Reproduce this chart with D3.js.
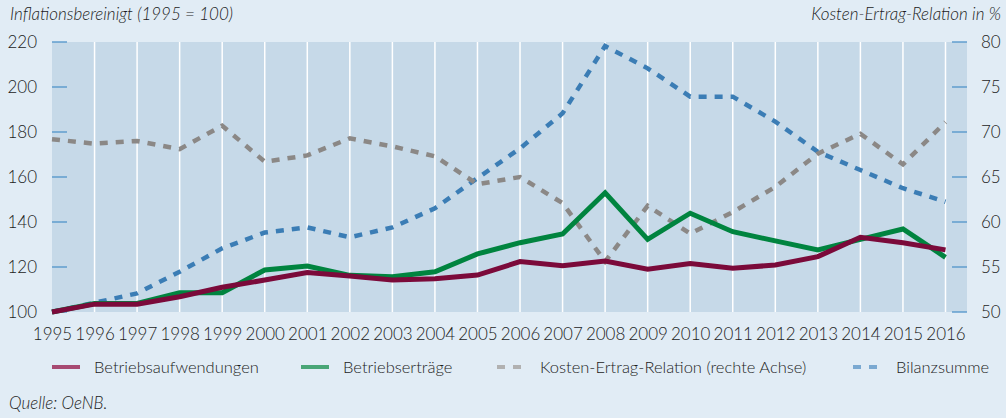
<!DOCTYPE html>
<html>
<head>
<meta charset="utf-8">
<script src="https://cdn.jsdelivr.net/npm/d3@7"></script>
<style>
  html, body { margin: 0; padding: 0; background: #e1ecf5; }
  svg { display: block; font-family: Lato, "Open Sans", sans-serif; font-weight: 300; }
</style>
</head>
<body>
<div id="chart"></div>
<script>
// data
var years = d3.range(1995, 2017);
var aufwendungen = [100, 103.5, 103.5, 106.8, 111, 114.2, 117.5, 116, 114.2, 114.8, 116.4,
  122.4, 120.6, 122.7, 119, 121.6, 119.4, 120.9, 124.6, 133.2, 130.8, 127.6];
var ertraege = [100, 103.8, 103.8, 108.6, 108.6, 118.7, 120.4, 116.3, 115.7, 117.9, 125.8,
  130.8, 134.7, 153, 132.3, 143.9, 135.7, 131.6, 127.6, 132.3, 136.9, 124.3];
var kostenErtrag = [69.2, 68.7, 69.0, 68.1, 70.7, 66.7, 67.4, 69.3, 68.4, 67.3, 64.2,
  65.0, 62.1, 55.6, 61.8, 58.7, 61.1, 63.9, 67.6, 69.8, 66.4, 71.1];
var bilanzsumme = [100, 104.1, 108.3, 117.9, 128.3, 135.3, 137.6, 133.2, 137.6, 146.1, 159.5,
  172.7, 188.3, 218.2, 208.3, 195.7, 195.7, 184.6, 171.2, 163.1, 155, 149];
var leftTicks = [100, 120, 140, 160, 180, 200, 220];
var rightTicks = [50, 55, 60, 65, 70, 75, 80];

var svgWidth = 1006, svgHeight = 418;
var plot = { left: 52, right: 967, top: 42, bottom: 312 };
var textColor = '#1c1c1c';

var svg = d3.select('#chart').append('svg')
  .attr('width', svgWidth)
  .attr('height', svgHeight);

svg.append('rect')
  .attr('width', svgWidth).attr('height', svgHeight)
  .attr('fill', '#e1ecf5');

// scales
var x = d3.scaleLinear().domain([1995, 2016]).range([52, 945.5]);
var yL = d3.scaleLinear().domain([100, 220]).range([plot.bottom, plot.top]);
var yR = d3.scaleLinear().domain([50, 80]).range([plot.bottom, plot.top]);

// plot background
svg.append('rect')
  .attr('x', plot.left).attr('y', plot.top)
  .attr('width', plot.right - plot.left)
  .attr('height', plot.bottom - plot.top)
  .attr('fill', '#c6d9e8');

// vertical white grid lines
svg.append('g').selectAll('line')
  .data(years.slice(1))
  .join('line')
  .attr('x1', d => x(d)).attr('x2', d => x(d))
  .attr('y1', plot.top).attr('y2', plot.bottom)
  .attr('stroke', '#ffffff').attr('stroke-width', 1.5);

// left axis
var leftAxis = d3.axisLeft(yL).tickValues(leftTicks).tickSize(0).tickPadding(0);
var gL = svg.append('g').attr('transform', 'translate(37,0)').call(leftAxis);
gL.select('.domain').remove();
gL.selectAll('text').attr('font-size', 17).attr('fill', textColor).attr('font-family', 'Lato');
svg.append('g').selectAll('line')
  .data(leftTicks)
  .join('line')
  .attr('x1', 52).attr('x2', 67)
  .attr('y1', d => yL(d)).attr('y2', d => yL(d))
  .attr('stroke', '#4f93c9').attr('stroke-width', 1.3);

// right axis
var rightAxis = d3.axisRight(yR).tickValues(rightTicks).tickSize(0).tickPadding(0);
var gR = svg.append('g').attr('transform', 'translate(981,0)').call(rightAxis);
gR.select('.domain').remove();
gR.selectAll('text').attr('font-size', 17).attr('fill', textColor).attr('font-family', 'Lato');
svg.append('g').selectAll('line')
  .data(rightTicks)
  .join('line')
  .attr('x1', 952).attr('x2', 967)
  .attr('y1', d => yR(d)).attr('y2', d => yR(d))
  .attr('stroke', '#4f93c9').attr('stroke-width', 1.3);

// x axis
var bottomAxis = d3.axisBottom(x).tickValues(years).tickFormat(d3.format('d')).tickSize(0).tickPadding(0);
var gX = svg.append('g').attr('transform', 'translate(0,328)').call(bottomAxis);
gX.select('.domain').remove();
gX.selectAll('text').attr('font-size', 17).attr('fill', textColor).attr('font-family', 'Lato');

// lines
function drawLine(values, yScale, color, dashed) {
  var line = d3.line()
    .x((d, i) => x(years[i]))
    .y(d => yScale(d));
  svg.append('path')
    .datum(values)
    .attr('d', line)
    .attr('fill', 'none')
    .attr('stroke', color)
    .attr('stroke-width', dashed ? 4.5 : 5)
    .attr('stroke-linejoin', 'miter')
    .attr('stroke-dasharray', dashed ? '8,8' : null);
}
drawLine(bilanzsumme, yL, '#3b7db5', true);
drawLine(kostenErtrag, yR, '#8b8886', true);
drawLine(ertraege, yL, '#00843f', false);
drawLine(aufwendungen, yL, '#7b0a3a', false);

// legend
var legendItems = [
  { label: 'Betriebsaufwendungen', color: '#a74a72', dashed: false, x: 52, tx: 94 },
  { label: 'Betriebserträge', color: '#49a677', dashed: false, x: 301, tx: 343 },
  { label: 'Kosten-Ertrag-Relation (rechte Achse)', color: '#b1b1b1', dashed: true, x: 497, tx: 540 },
  { label: 'Bilanzsumme', color: '#7ba9d1', dashed: true, x: 853, tx: 896 }
];
var legend = svg.append('g');
legendItems.forEach(function(d) {
  legend.append('line')
    .attr('x1', d.x).attr('x2', d.x + (d.dashed ? 25 : 28))
    .attr('y1', 367).attr('y2', 367)
    .attr('stroke', d.color)
    .attr('stroke-width', 4)
    .attr('stroke-dasharray', d.dashed ? '8,8' : null);
  legend.append('text')
    .attr('x', d.tx).attr('y', 367)
    .attr('dy', '0.35em')
    .attr('font-size', 16.5)
    .attr('fill', textColor)
    .text(d.label);
});

// titles
svg.append('text')
  .attr('x', 10).attr('y', 20)
  .attr('font-size', 17).attr('font-style', 'italic').attr('fill', textColor)
  .text('Inflationsbereinigt (1995 = 100)');
svg.append('text')
  .attr('x', 1001).attr('y', 20)
  .attr('text-anchor', 'end')
  .attr('font-size', 17).attr('font-style', 'italic').attr('fill', textColor)
  .text('Kosten-Ertrag-Relation in %');
svg.append('text')
  .attr('x', 9).attr('y', 409)
  .attr('font-size', 17).attr('font-style', 'italic').attr('fill', textColor)
  .text('Quelle: OeNB.');
</script>
</body>
</html>
